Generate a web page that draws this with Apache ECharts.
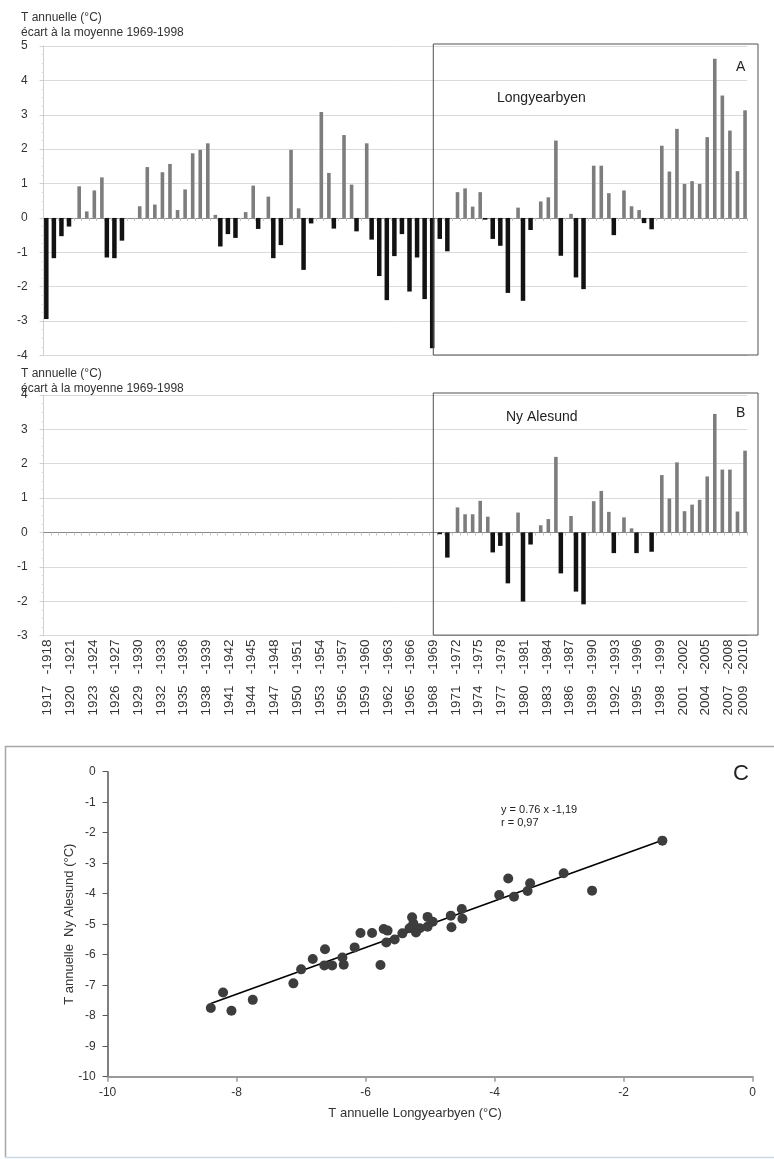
<!DOCTYPE html>
<html><head><meta charset="utf-8">
<script src="https://cdn.jsdelivr.net/npm/echarts@6/dist/echarts.min.js"></script>
<style>html,body{margin:0;padding:0;background:#fff}#c{width:774px;height:1159px}</style>
</head><body><div id="c"></div>
<script>
// ---------- DATA ----------
const firstYear = 1917;
// Longyearbyen: annual T anomaly vs 1969-1998 mean (°C), 1917-1918 ... 2009-2010
const longyearbyen = [
  -2.94, -1.17, -0.53, -0.25, 0.92, 0.19, 0.80, 1.18, -1.15, -1.17,
  -0.66, null, 0.34, 1.48, 0.39, 1.33, 1.57, 0.23, 0.83, 1.88,
  1.98, 2.17, 0.09, -0.83, -0.47, -0.58, 0.17, 0.94, -0.32, 0.62,
  -1.17, -0.79, 1.98, 0.28, -1.51, -0.16, 3.08, 1.31, -0.31, 2.41,
  0.97, -0.39, 2.17, -0.63, -1.69, -2.39, -1.11, -0.47, -2.14, -1.15,
  -2.36, -3.79, -0.61, -0.97, 0.75, 0.86, 0.33, 0.75, -0.05, -0.61,
  -0.81, -2.18, 0.30, -2.41, -0.35, 0.48, 0.60, 2.25, -1.10, 0.12,
  -1.73, -2.07, 1.52, 1.52, 0.72, -0.50, 0.80, 0.34, 0.23, -0.15,
  -0.33, 2.10, 1.35, 2.59, 0.99, 1.07, 0.99, 2.35, 4.63, 3.56,
  2.54, 1.36, 3.13
];
// Ny Alesund: same anomaly, starting 1969-1970
const nyAlesundFirstYear = 1969;
const nyAlesund = [
  -0.05, -0.73, 0.73, 0.53, 0.53, 0.92, 0.46, -0.58, -0.39, -1.48,
  0.58, -2.01, -0.35, 0.21, 0.39, 2.20, -1.19, 0.48, -1.72, -2.09,
  0.91, 1.21, 0.60, -0.60, 0.44, 0.12, -0.60, null, -0.56, 1.67,
  0.99, 2.04, 0.62, 0.81, 0.95, 1.63, 3.45, 1.83, 1.83, 0.61,
  2.38
];
// Scatter: annual T (°C) Longyearbyen (x) vs Ny Alesund (y)
const scatterLongyearbyen = [
  -8.40, -8.21, -8.08, -7.75, -7.12, -7.00, -6.82, -6.63, -6.64, -6.52,
  -6.36, -6.34, -6.17, -6.08, -5.90, -5.77, -5.72, -5.66, -5.68, -5.55,
  -5.43, -5.32, -5.28, -5.26, -5.22, -5.16, -5.04, -5.04, -4.96, -4.68,
  -4.67, -4.51, -4.50, -3.93, -3.79, -3.70, -3.49, -3.45, -2.93, -2.49,
  -1.40
];
const scatterNyAlesund = [
  -7.75, -7.24, -7.84, -7.48, -6.94, -6.48, -6.14, -5.82, -6.35, -6.35,
  -6.09, -6.33, -5.76, -5.29, -5.29, -6.34, -5.16, -5.21, -5.60, -5.50,
  -5.30, -5.13, -4.77, -4.98, -5.27, -5.13, -4.76, -5.08, -4.92, -4.72,
  -5.10, -4.50, -4.82, -4.04, -3.50, -4.10, -3.91, -3.66, -3.33, -3.90,
  -2.26
];
// Regression line end points
const trendX = [-8.4, -1.4];
const trendY = [-7.6, -2.25];
const equationText = ['y = 0.76 x -1,19', 'r = 0,97'];
const frameStartCategory = '1968 - 1969';

// ---------- BUILD ----------
const categories = longyearbyen.map((_, i) => (firstYear + i) + ' - ' + (firstYear + i + 1));
const nyFull = categories.map((_, i) => {
  const k = i - (nyAlesundFirstYear - firstYear);
  return (k >= 0 && k < nyAlesund.length) ? nyAlesund[k] : null;
});
const negPart = arr => arr.map(v => (v != null && v < 0) ? v : '-');
const posPart = arr => arr.map(v => (v != null && v >= 0) ? v : '-');
const scatterData = scatterLongyearbyen.map((x, i) => [x, scatterNyAlesund[i]]);
const trendData = trendX.map((x, i) => [x, trendY[i]]);

const FF = '"Liberation Sans", Arial, sans-serif';
const BLACK = '#121212', GREY = '#7d7d7d';

const chart = echarts.init(document.getElementById('c'), null, {renderer: 'canvas'});

const titleStyle = {fontSize: 12, fontWeight: 'normal', color: '#333', lineHeight: 15, fontFamily: FF};
function catAxis(grid, opts) {
  return Object.assign({
    type: 'category', gridIndex: grid, data: categories, boundaryGap: true,
    axisLine: {onZero: true, lineStyle: {color: '#8a8a8a', width: 1}},
    axisTick: {show: true, interval: 0, length: 3, lineStyle: {color: '#c4c4c4'}},
    axisLabel: {show: false}, splitLine: {show: false}
  }, opts || {});
}
function valAxisBar(grid, min, max) {
  return {
    type: 'value', gridIndex: grid, min: min, max: max, interval: 1,
    axisLine: {show: true, lineStyle: {color: '#cfcfcf'}},
    axisTick: {show: true, length: 4, lineStyle: {color: '#cfcfcf'}},
    minorTick: {show: true, splitNumber: 4, length: 2, lineStyle: {color: '#dddddd'}},
    axisLabel: {fontSize: 12, color: '#333', margin: 16, fontFamily: FF},
    splitLine: {show: true, lineStyle: {color: '#dadada', width: 1}}
  };
}
function barSeries(xi, yi, data, color, width) {
  return {type: 'bar', xAxisIndex: xi, yAxisIndex: yi, data: data, barWidth: width,
          barGap: '-32%', itemStyle: {color: color}, silent: true};
}

chart.setOption({
  animation: false,
  backgroundColor: '#fff',
  title: [
    {text: 'T annuelle (°C)\nécart à la moyenne 1969-1998', left: 16, top: 5, textStyle: titleStyle},
    {text: 'T annuelle (°C)\nécart à la moyenne 1969-1998', left: 16, top: 361, textStyle: titleStyle}
  ],
  grid: [
    {left: 43.6, right: 26.7, top: 46, height: 309.5},
    {left: 43.6, right: 26.7, top: 395, height: 240.6},
    {left: 107.6, right: 21.3, top: 771.7, height: 305}
  ],
  xAxis: [
    catAxis(0),
    catAxis(1),
    catAxis(1, {
      position: 'bottom', axisLine: {show: false, onZero: false}, axisTick: {show: false},
      axisLabel: {show: true, rotate: 90, fontSize: 13.5, color: '#333', margin: 4, fontFamily: FF,
        padding: [5, 0, 0, 0],
        formatter: (v) => v.replace(' - ', '   -'),
        interval: (idx) => idx % 3 === 0 || idx === categories.length - 1}
    }),
    {
      type: 'value', gridIndex: 2, min: -10, max: 0, interval: 2,
      name: 'T annuelle Longyearbyen (°C)', nameLocation: 'middle', nameGap: 30, nameMoveOverlap: false,
      nameTextStyle: {fontSize: 13, color: '#333', fontFamily: FF, padding: [0, 30, 0, 0]},
      axisLine: {onZero: false, lineStyle: {color: '#9a9a9a', width: 2}},
      axisTick: {length: 5, lineStyle: {color: '#9a9a9a', width: 1.5}},
      axisLabel: {fontSize: 12, color: '#333', margin: 10, fontFamily: FF},
      splitLine: {show: false}
    }
  ],
  yAxis: [
    valAxisBar(0, -4, 5),
    valAxisBar(1, -3, 4),
    {
      type: 'value', gridIndex: 2, min: -10, max: 0, interval: 1,
      name: 'T annuelle  Ny Alesund (°C)', nameLocation: 'middle', nameGap: 32, nameMoveOverlap: false,
      nameTextStyle: {fontSize: 13, color: '#333', fontFamily: FF},
      axisLine: {onZero: false, lineStyle: {color: '#555', width: 1.5}},
      axisTick: {length: 5, lineStyle: {color: '#555', width: 1}},
      axisLabel: {fontSize: 12, color: '#333', margin: 12, fontFamily: FF},
      splitLine: {show: false}
    }
  ],
  series: [
    barSeries(0, 0, negPart(longyearbyen), BLACK, 4.5),
    barSeries(0, 0, posPart(longyearbyen), GREY, 3.6),
    barSeries(1, 1, negPart(nyFull), BLACK, 4.5),
    barSeries(1, 1, posPart(nyFull), GREY, 3.6),
    {type: 'line', xAxisIndex: 3, yAxisIndex: 2, data: trendData, symbol: 'none',
     lineStyle: {color: '#000', width: 1.6}, silent: true, z: 3},
    {type: 'scatter', xAxisIndex: 3, yAxisIndex: 2, data: scatterData, symbolSize: 10,
     itemStyle: {color: '#3d3d3d', opacity: 1}, silent: true, z: 4}
  ]
});

// Frames & annotations, positioned through the axes' scales
const fi = categories.indexOf(frameStartCategory);
const fxA = chart.convertToPixel({xAxisIndex: 0}, fi);
const fxB = chart.convertToPixel({xAxisIndex: 1}, fi);
const yA5 = chart.convertToPixel({yAxisIndex: 0}, 5), yAm4 = chart.convertToPixel({yAxisIndex: 0}, -4);
const yB4 = chart.convertToPixel({yAxisIndex: 1}, 4), yBm3 = chart.convertToPixel({yAxisIndex: 1}, -3);
const frameRight = 758;
const txt = (text, x, y, size, extra) => ({type: 'text', silent: true, z: 10,
  style: Object.assign({text: text, x: x, y: y, fill: '#222', font: size + 'px ' + FF,
    verticalAlign: 'middle', align: 'left'}, extra || {})});

chart.setOption({
  graphic: [
    {type: 'rect', silent: true, z: 5, shape: {x: fxA, y: yA5 - 2, width: frameRight - fxA, height: yAm4 - yA5 + 1.5},
     style: {fill: 'none', stroke: '#505050', lineWidth: 1}},
    {type: 'rect', silent: true, z: 5, shape: {x: fxB, y: yB4 - 2, width: frameRight - fxB, height: yBm3 - yB4 + 1.5},
     style: {fill: 'none', stroke: '#505050', lineWidth: 1}},
    txt('Longyearbyen', 497, 98, 14),
    txt('A', 736, 67, 14),
    txt('Ny Alesund', 506, 417, 14),
    txt('B', 736, 413, 14),
    // panel C frame
    {type: 'polyline', silent: true, shape: {points: [[5.5, 1157], [5.5, 746.5], [780, 746.5]]},
     style: {fill: 'none', stroke: '#a8a8a8', lineWidth: 1.5}},
    {type: 'line', silent: true, shape: {x1: 5, y1: 1157.5, x2: 780, y2: 1157.5},
     style: {stroke: '#c6dcec', lineWidth: 1.5}},
    txt('C', 733, 774, 22),
    {type: 'text', silent: true, z: 10,
     style: {text: equationText.join('\n'), x: 501, y: 803.5, fill: '#222', font: '11px ' + FF,
       lineHeight: 13.3, verticalAlign: 'top', align: 'left'}}
  ]
});
</script>
</body></html>
